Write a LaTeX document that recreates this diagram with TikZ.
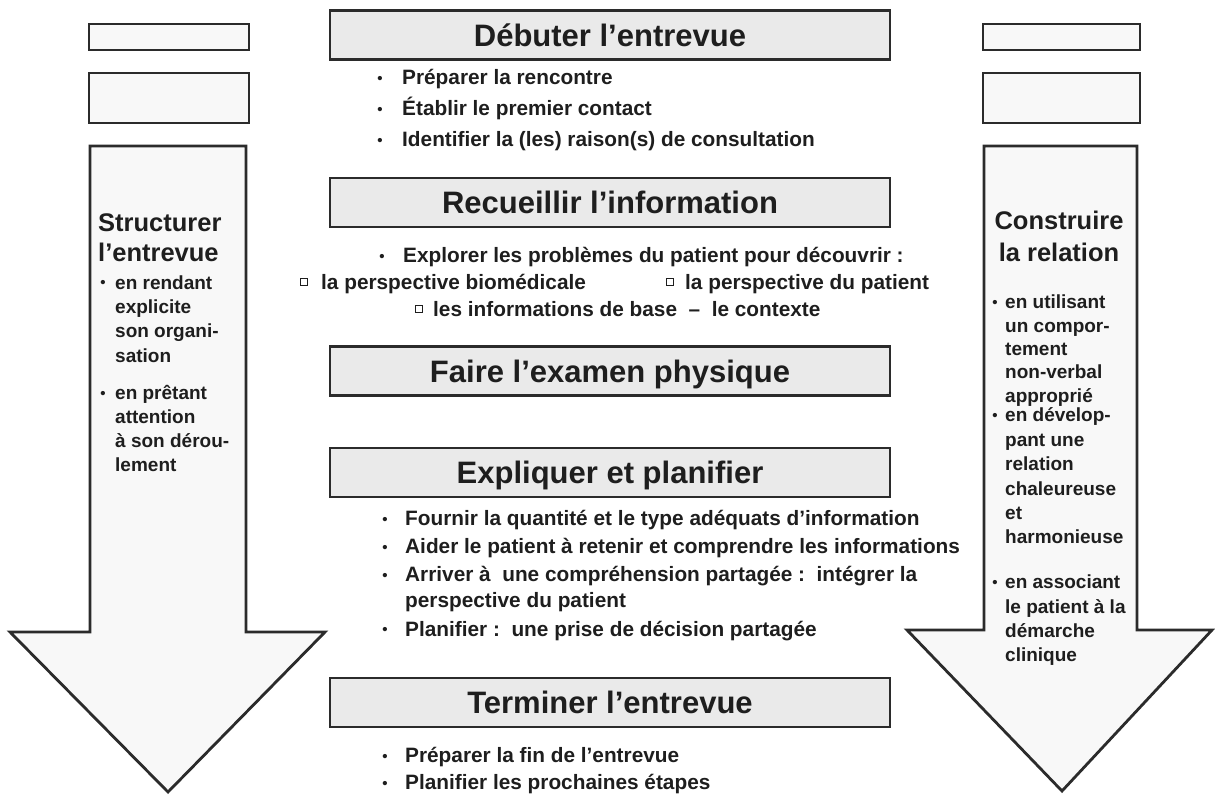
\documentclass[tikz,border=0pt]{standalone}
\usepackage{fontspec}
\setmainfont{Liberation Sans}
\definecolor{ink}{HTML}{1E1E1E}
\definecolor{edge}{HTML}{2B2B2B}
\definecolor{titlefill}{HTML}{EAEAEA}
\definecolor{pale}{HTML}{F8F8F8}
\newcommand\ttlfont{\fontsize{31}{31}\selectfont\bfseries}
\newcommand\bodyfont{\fontsize{20.8}{24}\selectfont\bfseries}
\newcommand\bulfont{\fontsize{15}{15}\selectfont\bfseries}
\newcommand\sideheadfont{\fontsize{25.5}{30}\selectfont\bfseries}
\newcommand\sidebodyfont{\fontsize{19}{24}\selectfont\bfseries}
\tikzset{
  titlebox/.style={draw=edge, fill=titlefill, line width=2.8pt, minimum width=560pt,
    minimum height=49pt, inner sep=0pt, font=\ttlfont, text=ink, text height=22pt, text depth=0pt},
  smallbox/.style={draw=edge, fill=pale, line width=2.8pt, minimum width=160pt, inner sep=0pt},
  arrowshape/.style={draw=edge, fill=pale, line width=2.8pt, line join=miter},
  bodytxt/.style={anchor=base west, inner sep=0pt, font=\bodyfont, text=ink},
  bul/.style={anchor=base, inner sep=0pt, font=\bulfont, text=ink, yshift=1.2pt},
  sq/.style={draw=ink, line width=1.1pt, minimum size=7.5pt, inner sep=0pt, fill=white},
  sidehead/.style={inner sep=0pt, font=\sideheadfont, text=ink},
  sidetxt/.style={anchor=base west, inner sep=0pt, font=\sidebodyfont, text=ink},
  sidebul/.style={anchor=base, inner sep=0pt, font=\bulfont, text=ink, yshift=1pt}
}
\begin{document}
\begin{tikzpicture}[x=1pt,y=-1pt]
\useasboundingbox (0,0) rectangle (1215,795);

% big arrows
\draw[arrowshape] (90,146) -- (246,146) -- (246,632) -- (325,632) -- (168,792) -- (10,632) -- (90,632) -- cycle;
\draw[arrowshape] (984,146) -- (1137,146) -- (1137,630) -- (1212,630) -- (1062,791) -- (907,630) -- (984,630) -- cycle;

% small boxes
\node[smallbox, minimum height=26pt] (lb1) at (169,37) {};
\node[smallbox, minimum height=50pt] (lb2) at (169,98) {};
\node[smallbox, minimum height=26pt, minimum width=157pt] (rb1) at (1061.5,37) {};
\node[smallbox, minimum height=50pt, minimum width=157pt] (rb2) at (1061.5,98) {};

% title boxes
\node[titlebox] (t1) at (610,35) {Débuter l’entrevue};
\node[titlebox] (t2) at (610,202.5) {Recueillir l’information};
\node[titlebox] (t3) at (610,371) {Faire l’examen physique};
\node[titlebox] (t4) at (610,472.5) {Expliquer et planifier};
\node[titlebox] (t5) at (610,702.5) {Terminer l’entrevue};

% Débuter bullets
\node[bul] (b1a) at (380,84.5) {•};
\node[bodytxt] (d1) at (402,84.5) {Préparer la rencontre};
\node[bul] (b1b) at (380,115.5) {•};
\node[bodytxt] (d2) at (402,115.5) {Établir le premier contact};
\node[bul] (b1c) at (380,146.5) {•};
\node[bodytxt] (d3) at (402,146.5) {Identifier la (les) raison(s) de consultation};

% Recueillir
\node[bul] (b2a) at (382,262.5) {•};
\node[bodytxt] (r1) at (403,262.5) {Explorer les problèmes du patient pour découvrir :};
\node[sq] (s1) at (304,282) {};
\node[bodytxt] (r2) at (321,289.5) {la perspective biomédicale};
\node[sq] (s2) at (670,282) {};
\node[bodytxt] (r3) at (685,289.5) {la perspective du patient};
\node[sq] (s3) at (419,309) {};
\node[bodytxt] (r4) at (433,316.5) {les informations de base\ \ –\ \ le contexte};

% Expliquer
\node[bul] (b4a) at (385,525.5) {•};
\node[bodytxt] (e1) at (405,525.5) {Fournir la quantité et le type adéquats d’information};
\node[bul] (b4b) at (385,553.5) {•};
\node[bodytxt] (e2) at (405,553.5) {Aider le patient à retenir et comprendre les informations};
\node[bul] (b4c) at (385,581.5) {•};
\node[bodytxt] (e3) at (405,581.5) {Arriver à\ \ une compréhension partagée :\ \ intégrer la};
\node[bodytxt] (e3b) at (405,607) {perspective du patient};
\node[bul] (b4d) at (385,636) {•};
\node[bodytxt] (e4) at (405,636) {Planifier :\ \ une prise de décision partagée};

% Terminer
\node[bul] (b5a) at (385,762.5) {•};
\node[bodytxt] (f1) at (405,762.5) {Préparer la fin de l’entrevue};
\node[bul] (b5b) at (385,789.5) {•};
\node[bodytxt] (f2) at (405,789.5) {Planifier les prochaines étapes};

% left side text
\node[sidehead, anchor=base west] (lh1) at (98,231) {Structurer};
\node[sidehead, anchor=base west] (lh2) at (98,261) {l’entrevue};
\node[sidebul] (lbu1) at (103,288.8) {•};
\foreach \t [count=\i] in {en rendant, explicite, son organi-, sation}
  \node[sidetxt] (la-\i) at (115,264.8+24.3*\i) {\t};
\node[sidebul] (lbu2) at (103,399.8) {•};
\foreach \t [count=\i] in {en prêtant, attention, à son dérou-, lement}
  \node[sidetxt] (lb-\i) at (115,375.8+24*\i) {\t};

% right side text
\node[sidehead, anchor=base] (rh1) at (1059,229) {Construire};
\node[sidehead, anchor=base] (rh2) at (1059,261) {la relation};
\node[sidebul] (rbu1) at (995,308.8) {•};
\foreach \t [count=\i] in {en utilisant, un compor-, tement, non-verbal, approprié}
  \node[sidetxt] (ra-\i) at (1005,285.5+23.3*\i) {\t};
\node[sidebul] (rbu2) at (995,421.8) {•};
\foreach \t [count=\i] in {en dévelop-, pant une, relation, chaleureuse, et, harmonieuse}
  \node[sidetxt] (rb-\i) at (1005,397.4+24.4*\i) {\t};
\node[sidebul] (rbu3) at (995,588.8) {•};
\foreach \t [count=\i] in {en associant, le patient à la, démarche, clinique}
  \node[sidetxt] (rc-\i) at (1005,564.5+24.3*\i) {\t};
\end{tikzpicture}
\end{document}
